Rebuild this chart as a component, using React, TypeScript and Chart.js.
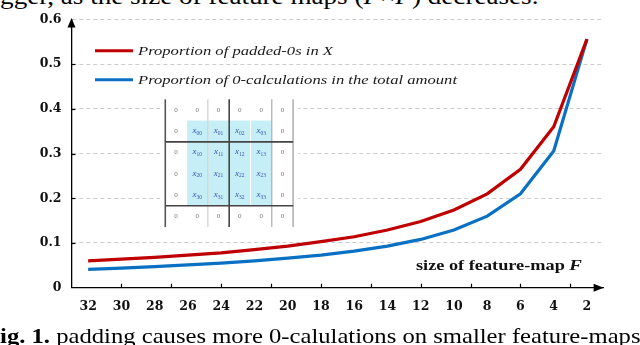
import React, { useEffect, useRef } from 'react';
import { Chart, registerables } from 'chart.js';

Chart.register(...registerables);

// ---- data ----
const CATEGORIES = ['32', '30', '28', '26', '24', '22', '20', '18', '16', '14', '12', '10', '8', '6', '4', '2'];
const PADDED_ZEROS = [0.060, 0.064, 0.068, 0.073, 0.078, 0.085, 0.093, 0.103, 0.114, 0.129, 0.148, 0.174, 0.210, 0.265, 0.360, 0.556];
const ZERO_CALCS = [0.041, 0.044, 0.047, 0.051, 0.055, 0.060, 0.066, 0.073, 0.082, 0.093, 0.108, 0.129, 0.160, 0.210, 0.306, 0.556];
const SERIES_LABELS = ['Proportion of padded-0s in X', 'Proportion of 0-calculations in the total amount'];
const Y_TICKS = [0, 0.1, 0.2, 0.3, 0.4, 0.5, 0.6];
const X_TICK_MARKS = [1, 2.5, 4, 5.5, 7, 8.5, 10, 11.5, 13, 14.5];
const X_TITLE = 'size of feature-map ';
const X_TITLE_VAR = 'F';
const MATRIX = [
  ['0', '0', '0', '0', '0', '0'],
  ['0', 'x00', 'x01', 'x02', 'x03', '0'],
  ['0', 'x10', 'x11', 'x12', 'x13', '0'],
  ['0', 'x20', 'x21', 'x22', 'x23', '0'],
  ['0', 'x30', 'x31', 'x32', 'x33', '0'],
  ['0', '0', '0', '0', '0', '0'],
];

const RED = '#c00000';
const BLUE = '#0a70c4';
const SERIF = '"Liberation Serif", "Times New Roman", serif';
const TICK_FONT = '"DejaVu Serif", serif';

const decor = {
  id: 'decor',
  beforeDatasetsDraw(chart: any) {
    const { ctx } = chart;
    const x = chart.scales.x;
    const y = chart.scales.y;
    // inset matrix
    const cs = 21.3;
    const left = x.getPixelForValue(2.32);
    const top = y.getPixelForValue(0.4215);
    const n = MATRIX.length;
    ctx.save();
    ctx.fillStyle = '#ffffff';
    ctx.fillRect(left - 5, top - 2, cs * n + 10, cs * n + 4);
    ctx.fillStyle = '#c6eef6';
    for (let c = 1; c <= 4; c++) {
      ctx.fillRect(left + c * cs + 0.5, top + cs, cs - 1, cs * 4);
    }
    const vlines: [number, string, number][] = [[0, '#555', 1.6], [2, '#c4c4c4', 1], [3, '#444', 1.6], [5, '#aaa', 1.2], [6, '#999', 1.2]];
    for (const [b, col, w] of vlines) {
      ctx.strokeStyle = col;
      ctx.lineWidth = w;
      ctx.beginPath();
      ctx.moveTo(left + b * cs, top);
      ctx.lineTo(left + b * cs, top + n * cs);
      ctx.stroke();
    }
    for (const b of [2, 5]) {
      ctx.strokeStyle = '#444';
      ctx.lineWidth = 1.6;
      ctx.beginPath();
      ctx.moveTo(left, top + b * cs);
      ctx.lineTo(left + n * cs, top + b * cs);
      ctx.stroke();
    }
    ctx.textBaseline = 'middle';
    for (let r = 0; r < n; r++) {
      for (let c = 0; c < n; c++) {
        const t = MATRIX[r][c];
        const cx = left + (c + 0.5) * cs;
        const cy = top + (r + 0.5) * cs;
        if (t === '0') {
          ctx.fillStyle = '#777';
          ctx.font = `7px ${SERIF}`;
          ctx.textAlign = 'center';
          ctx.fillText('0', cx, cy);
        } else {
          ctx.fillStyle = '#3355bb';
          ctx.font = `italic 9px ${SERIF}`;
          ctx.textAlign = 'left';
          const main = t[0];
          const sub = t.slice(1);
          const mw = ctx.measureText(main).width;
          ctx.font = `5.5px ${SERIF}`;
          const sw = ctx.measureText(sub).width;
          const sx = cx - (mw + sw) / 2;
          ctx.font = `italic 9px ${SERIF}`;
          ctx.fillText(main, sx, cy - 0.5);
          ctx.font = `5.5px ${SERIF}`;
          ctx.fillText(sub, sx + mw, cy + 2);
        }
      }
    }
    ctx.restore();
  },
  afterDraw(chart: any) {
    const { ctx, chartArea } = chart;
    const x = chart.scales.x;
    const y = chart.scales.y;
    const { left, right, top, bottom } = chartArea;
    ctx.save();
    ctx.fillStyle = '#000';
    ctx.strokeStyle = '#000';
    // y arrow
    ctx.beginPath();
    ctx.moveTo(left, top - 1.5);
    ctx.lineTo(left - 4, top + 8);
    ctx.lineTo(left + 4, top + 8);
    ctx.closePath();
    ctx.fill();
    // x arrow
    ctx.beginPath();
    ctx.moveTo(right, bottom);
    ctx.lineTo(right - 10, bottom - 4);
    ctx.lineTo(right - 10, bottom + 4);
    ctx.closePath();
    ctx.fill();
    // inward tick marks
    ctx.lineWidth = 1.2;
    for (const v of Y_TICKS) {
      if (v === 0 || v === 0.6) continue;
      const py = Math.round(y.getPixelForValue(v)) + 0.5;
      ctx.beginPath();
      ctx.moveTo(left, py);
      ctx.lineTo(left + 4, py);
      ctx.stroke();
    }
    for (const v of X_TICK_MARKS) {
      const px = Math.round(x.getPixelForValue(v)) + 0.5;
      ctx.beginPath();
      ctx.moveTo(px, bottom);
      ctx.lineTo(px, bottom - 4);
      ctx.stroke();
    }
    // axis title (stretched to the reference's wide lettering)
    ctx.textBaseline = 'alphabetic';
    ctx.textAlign = 'left';
    ctx.font = `bold italic 15px ${SERIF}`;
    const fw = ctx.measureText(X_TITLE_VAR).width;
    ctx.font = `bold 14.5px ${SERIF}`;
    const tw = ctx.measureText(X_TITLE).width;
    const tr = x.getPixelForValue(15) - 5;
    const ty = y.getPixelForValue(0.05) + 5;
    const titleW = 166;
    const k = titleW / (tw + fw);
    ctx.save();
    ctx.translate(tr - titleW, ty);
    ctx.scale(k, 1);
    ctx.fillStyle = '#111';
    ctx.fillText(X_TITLE, 0, 0);
    ctx.font = `bold italic 15px ${SERIF}`;
    ctx.fillText(X_TITLE_VAR, tw, 0);
    ctx.restore();
    // legend
    const targets = [195, 319];
    const ys = [0.53, 0.465];
    const colors = [RED, BLUE];
    chart.data.datasets.forEach((ds: any, i: number) => {
      const ly = y.getPixelForValue(ys[i]);
      ctx.strokeStyle = colors[i];
      ctx.lineWidth = 3;
      ctx.beginPath();
      ctx.moveTo(left + 23.5, ly);
      ctx.lineTo(left + 61.5, ly);
      ctx.stroke();
      ctx.font = `italic 13px ${SERIF}`;
      const w = ctx.measureText(ds.label).width;
      ctx.save();
      ctx.translate(left + 66.5, ly + 4.5);
      ctx.scale(targets[i] / w, 1);
      ctx.fillStyle = '#1a1a1a';
      ctx.fillText(ds.label, 0, 0);
      ctx.restore();
    });
    ctx.restore();
  },
};

export default function App() {
  const ref = useRef<HTMLCanvasElement>(null);
  useEffect(() => {
    const chart = new Chart(ref.current as HTMLCanvasElement, {
      type: 'line',
      data: {
        labels: CATEGORIES,
        datasets: [
          { label: SERIES_LABELS[0], data: PADDED_ZEROS, borderColor: RED, backgroundColor: RED, borderWidth: 3.2, pointRadius: 0, tension: 0, fill: false },
          { label: SERIES_LABELS[1], data: ZERO_CALCS, borderColor: BLUE, backgroundColor: BLUE, borderWidth: 3.2, pointRadius: 0, tension: 0, fill: false },
        ],
      },
      options: {
        animation: false,
        responsive: false,
        devicePixelRatio: 1,
        layout: { padding: { left: 8, right: 36.4, top: 19.5, bottom: 0 } },
        plugins: { legend: { display: false }, tooltip: { enabled: false } },
        scales: {
          x: {
            type: 'category',
            offset: true,
            grid: { display: false, drawTicks: false },
            border: { display: true, color: '#000', width: 1.3 },
            ticks: { color: '#111', font: { family: TICK_FONT, weight: 'bold', size: 12.5 }, padding: 12, maxRotation: 0, autoSkip: false },
            afterFit: (s: any) => { s.height = 57.3; },
          },
          y: {
            min: 0,
            max: 0.6,
            afterBuildTicks: (s: any) => { s.ticks = Y_TICKS.map((v) => ({ value: v })); },
            ticks: {
              color: '#111',
              font: { family: TICK_FONT, weight: 'bold', size: 12.5 },
              padding: 10,
              callback: (v: any) => String(Number(Number(v).toFixed(1))),
            },
            grid: {
              color: (c: any) => (c.tick && c.tick.value === 0 ? 'rgba(0,0,0,0)' : '#cccccc'),
              drawTicks: false,
              lineWidth: 1,
            },
            border: { display: true, color: '#000', width: 1.3, dash: [4, 3] },
            afterFit: (s: any) => { s.width = 63.5; },
          },
        },
      } as any,
      plugins: [decor],
    });
    return () => chart.destroy();
  }, []);

  return (
    <div style={{ position: 'fixed', left: 0, top: 0, width: 640, height: 345, overflow: 'hidden', background: '#fff', fontFamily: SERIF, color: '#000' }}>
      <div style={{ position: 'absolute', left: -21, top: -16.1, fontSize: 24, lineHeight: '24px', whiteSpace: 'nowrap', transform: 'scaleX(1.13)', transformOrigin: '0 0' }}>
        bigger, as the size of feature maps (<i>F</i>×<i>F</i>) decreases.
      </div>
      <canvas ref={ref} width={640} height={345} style={{ position: 'absolute', left: 0, top: 0, width: 640, height: 345 }} />
      <div style={{ position: 'absolute', left: -15, top: 324.6, fontSize: 22, lineHeight: '22px', whiteSpace: 'nowrap', transform: 'scaleX(1.12)', transformOrigin: '0 0' }}>
        <b>Fig. 1.</b> padding causes more 0-calulations on smaller feature-maps
      </div>
    </div>
  );
}
